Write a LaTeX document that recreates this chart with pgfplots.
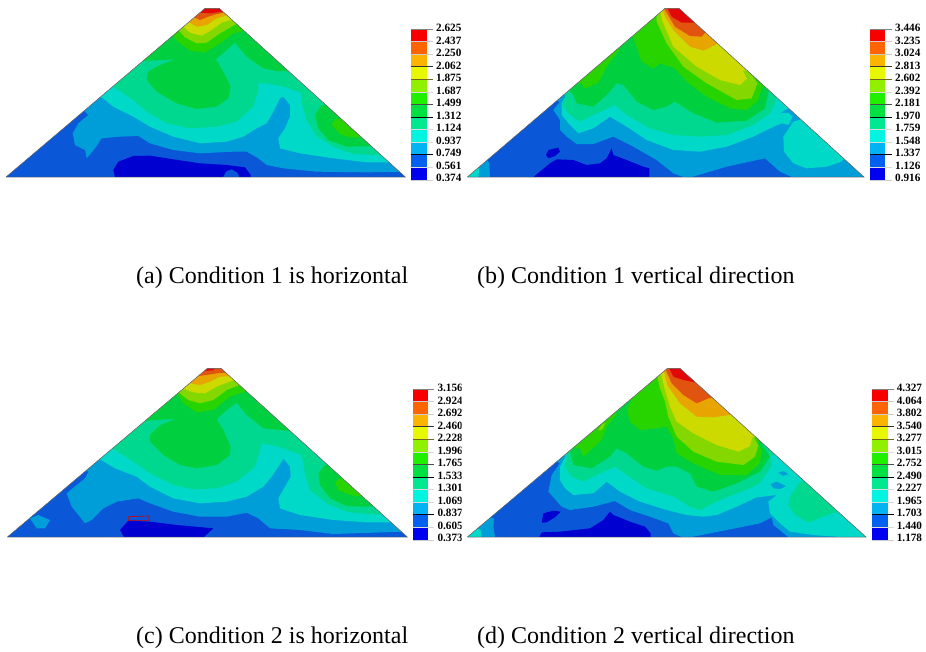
\documentclass[border=0pt]{standalone}
\usepackage{pgfplots}
\pgfplotsset{compat=1.18}
\usepackage{fontspec}
\setmainfont{Liberation Serif}
\definecolor{La}{HTML}{0000D0}
\definecolor{Lb}{HTML}{0A58D8}
\definecolor{Lc}{HTML}{009ED8}
\definecolor{Ld}{HTML}{00D8C8}
\definecolor{Le}{HTML}{00D890}
\definecolor{Lf}{HTML}{00D040}
\definecolor{Lg}{HTML}{28D400}
\definecolor{Lh}{HTML}{84D800}
\definecolor{Li}{HTML}{CCDA00}
\definecolor{Lj}{HTML}{E8A400}
\definecolor{Lk}{HTML}{E05410}
\definecolor{Ll}{HTML}{E00808}
\definecolor{Ba}{HTML}{0000F0}
\definecolor{Bb}{HTML}{0060F0}
\definecolor{Bc}{HTML}{00B4F4}
\definecolor{Bd}{HTML}{00F4E0}
\definecolor{Be}{HTML}{00E890}
\definecolor{Bf}{HTML}{00E040}
\definecolor{Bg}{HTML}{20F000}
\definecolor{Bh}{HTML}{90F000}
\definecolor{Bi}{HTML}{E8F800}
\definecolor{Bj}{HTML}{FBB400}
\definecolor{Bk}{HTML}{FF6400}
\definecolor{Bl}{HTML}{F80000}
\newcommand\reg[2]{\addplot[draw=none,fill=#1,forget plot] coordinates {#2} --cycle;}
\newcommand\cbr[3]{\reg{#3}{(\bx,#1)(\bxx,#1)(\bxx,#2)(\bx,#2)}}
\newcommand\tk[2]{\addplot[#2,line width=0.6pt,forget plot] coordinates {(\bx,#1)(\bxt,#1)};}
\newcommand\cbar[3]{\def\bx{#1}\def\bxx{#2}\def\bxt{#3}%
 \cbr{87}{125}{Bl}\cbr{125}{162}{Bk}\cbr{162}{200}{Bj}\cbr{200}{238}{Bi}%
 \cbr{238}{276}{Bh}\cbr{276}{313}{Bg}\cbr{313}{351}{Bf}\cbr{351}{389}{Be}%
 \cbr{389}{426}{Bd}\cbr{426}{464}{Bc}\cbr{464}{502}{Bb}\cbr{502}{540}{Ba}%
 \tk{87}{gray}\tk{125}{gray!40}\tk{162}{gray!40}\tk{200}{black!80}\tk{238}{olive!70!black}%
 \tk{276}{gray!30}\tk{313}{black!70}\tk{351}{black}\tk{389}{gray!30}\tk{426}{gray!30}%
 \tk{464}{black}\tk{502}{gray!30}\tk{540}{gray!40}}
\newcommand\cl[2]{\node[anchor=west,inner sep=0pt,font=\fontsize{11.2}{12}\selectfont\bfseries] at (axis cs:\lx,#1) {#2};}
\newcommand\frameup[4]{% xl, xr, xtl, xtr
 \addplot[draw=none,fill=white,forget plot] coordinates {(5,545)(5,0)(1232,0)(1232,545)(5,545)(#1,531)(#2,531)(#4,25)(#3,25)(#1,531)} --cycle;
 \addplot[draw=black!65,line width=0.5pt,forget plot] coordinates {(#1,531)(#3,25)(#4,25)(#2,531)(#1,531)};}
\pgfplotsset{panel/.style={scale only axis,width=466pt,height=190pt,xmin=0,xmax=1398,ymin=0,ymax=570,
 y dir=reverse,hide axis,clip=false,anchor=north west}}
\begin{document}
\begin{tikzpicture}[x=1pt,y=1pt]
\path[use as bounding box] (0,0) rectangle (926,-651);
% ---------------- panel a
\begin{axis}[panel,at={(0pt,0pt)}]
\reg{Lb}{(10,535)(1225,535)(660,10)(610,10)}
\reg{La}{(345,531)(340,510)(355,485)(400,468)(450,467)(520,478)(600,490)(680,495)(735,502)(752,525)(752,531)}
\reg{Lb}{(670,531)(678,515)(695,508)(712,518)(718,531)}
\reg{Lc}{(240,320)(265,345)(235,370)(218,400)(225,435)(255,450)(260,475)(285,445)(305,415)(360,410)(415,408)(450,430)(520,450)(600,460)(700,455)(740,455)(775,475)(800,495)(850,505)(950,515)(1100,517)(1230,515)(640,0)}
\reg{Ld}{(285,290)(305,292)(340,320)(400,350)(450,380)(520,410)(600,430)(680,425)(730,410)(770,385)(800,370)(820,335)(840,295)(850,290)(870,315)(870,350)(855,385)(835,415)(840,445)(900,460)(1000,475)(1100,487)(1190,487)(640,0)}
\reg{Le}{(320,260)(340,260)(400,300)(440,335)(500,370)(570,385)(650,380)(710,365)(760,320)(775,270)(775,250)(800,250)(860,262)(905,280)(905,310)(920,360)(950,410)(1000,440)(1060,462)(1130,465)(1170,465)(640,0)}
\reg{Lf}{(420,183)(525,178)(480,195)(445,215)(440,240)(470,275)(530,310)(590,327)(650,320)(685,295)(692,260)(670,215)(648,178)(680,150)(705,128)(740,170)(790,205)(830,213)(880,215)(640,0)}
\reg{Lf}{(990,315)(965,315)(945,345)(955,385)(985,420)(1040,440)(1130,438)}
\reg{Lg}{(1040,355)(1005,358)(995,375)(1020,402)(1050,412)(1095,412)}
\reg{Lg}{(515,100)(530,122)(570,152)(615,157)(660,130)(700,100)(735,92)(640,0)}
\reg{Lh}{(535,90)(555,112)(590,130)(620,128)(660,100)(712,70)(640,0)}
\reg{Li}{(548,78)(570,98)(605,107)(635,90)(665,68)(698,58)(640,0)}
\reg{Lj}{(565,65)(590,80)(620,75)(650,55)(685,45)(640,0)}
\reg{Lk}{(583,52)(600,60)(625,50)(650,42)(675,38)(640,0)}
\reg{Ll}{(600,38)(630,40)(668,35)(640,0)}
\frameup{18}{1216}{615}{658}
\cbar{1233}{1280}{1300}
\def\lx{1308}
\cl{85}{2.625}\cl{122.5}{2.437}\cl{160}{2.250}\cl{197.5}{2.062}\cl{235}{1.875}\cl{272.5}{1.687}\cl{310}{1.499}\cl{347.5}{1.312}\cl{385}{1.124}\cl{422.5}{0.937}\cl{460}{0.749}\cl{497.5}{0.561}\cl{535}{0.374}
\end{axis}
% ---------------- panel b
\begin{axis}[panel,at={(460pt,0pt)}]
\reg{Lb}{(10,535)(1225,535)(660,10)(610,10)}
\reg{Lc}{(10,531)(90,531)(88,490)(75,470)(60,470)}
\reg{Ld}{(10,531)(55,531)(58,503)(45,500)}
\reg{La}{(220,531)(270,490)(290,478)(340,480)(380,495)(420,490)(440,475)(455,445)(460,465)(500,480)(550,500)(568,505)(568,531)}
\reg{La}{(258,465)(265,450)(295,443)(300,455)(285,468)(265,475)}
\reg{Lc}{(275,300)(300,305)(280,330)(300,360)(300,390)(320,410)(350,432)(400,432)(460,410)(520,440)(590,480)(640,520)(670,531)(695,531)(800,500)(915,475)(960,515)(995,531)(1230,531)(640,0)}
\reg{Ld}{(1035,355)(1000,365)(970,410)(972,455)(1000,490)(1040,505)(1100,500)(1140,487)(1160,470)}
\reg{Ld}{(305,280)(320,285)(305,310)(305,345)(330,375)(355,400)(400,385)(450,350)(500,380)(560,420)(640,450)(720,455)(800,440)(880,410)(930,385)(965,370)(985,375)(998,350)(985,338)(960,340)(975,330)(990,322)(1010,322)(640,0)}
\reg{Le}{(300,280)(318,283)(307,315)(330,345)(360,365)(400,345)(465,315)(500,345)(570,385)(640,405)(720,410)(800,405)(880,375)(930,340)(945,310)(950,285)(640,0)}
\reg{Lf}{(320,262)(340,285)(350,310)(400,320)(440,285)(470,250)(490,255)(530,305)(580,330)(620,320)(645,305)(700,340)(770,368)(860,362)(915,325)(922,290)(930,255)(640,0)}
\reg{Lg}{(460,140)(478,150)(440,200)(415,248)(375,265)(365,250)(350,250)}
\reg{Lg}{(515,100)(533,150)(545,185)(580,205)(600,190)(645,205)(680,245)(740,290)(810,325)(860,330)(895,300)(905,265)(925,250)(640,0)}
\reg{Lh}{(590,40)(590,65)(620,130)(670,200)(740,250)(830,300)(875,295)(892,250)(875,225)(900,228)(640,0)}
\reg{Li}{(600,30)(606,60)(640,140)(710,200)(780,240)(840,255)(860,235)(848,212)(870,210)(640,0)}
\reg{Lj}{(608,30)(615,50)(640,90)(690,140)(730,152)(765,135)(775,125)(795,125)(640,0)}
\reg{Lk}{(612,25)(645,80)(690,108)(725,110)(735,98)(750,98)(640,0)}
\reg{Ll}{(620,20)(635,50)(665,68)(710,68)(640,0)}
\frameup{22}{1212}{615}{657}
\cbar{1230}{1276}{1296}
\def\lx{1305}
\cl{85}{3.446}\cl{122.5}{3.235}\cl{160}{3.024}\cl{197.5}{2.813}\cl{235}{2.602}\cl{272.5}{2.392}\cl{310}{2.181}\cl{347.5}{1.970}\cl{385}{1.759}\cl{422.5}{1.548}\cl{460}{1.337}\cl{497.5}{1.126}\cl{535}{0.916}
\end{axis}
% ---------------- panel c
\begin{axis}[panel,at={(0pt,-360pt)}]
\reg{Lb}{(10,535)(1228,535)(665,10)(615,10)}
\reg{La}{(372,531)(360,510)(385,482)(450,485)(530,495)(640,505)(612,531)}
\reg{Lc}{(90,475)(115,465)(150,480)(135,505)(110,505)}
\reg{Lc}{(250,330)(265,335)(255,355)(230,375)(200,400)(215,440)(235,465)(255,490)(275,480)(310,445)(350,425)(415,415)(450,430)(520,455)(600,470)(680,470)(740,458)(775,475)(810,505)(900,510)(1000,522)(1210,515)(1230,515)(645,0)}
\reg{Ld}{(290,292)(345,325)(410,350)(450,380)(520,415)(600,430)(680,425)(740,410)(790,380)(815,350)(845,305)(850,295)(870,320)(872,350)(855,380)(835,415)(840,445)(900,465)(1000,480)(1100,487)(1190,487)(645,0)}
\reg{Le}{(330,260)(400,305)(450,340)(520,375)(580,388)(650,385)(710,365)(765,320)(780,270)(785,250)(830,258)(905,285)(915,340)(930,390)(980,430)(1040,455)(1100,462)(1190,465)(645,0)}
\reg{Lf}{(430,183)(530,176)(480,195)(450,225)(450,245)(490,285)(540,315)(590,325)(650,315)(690,285)(692,260)(670,210)(650,178)(680,150)(710,128)(740,165)(790,205)(885,215)(645,0)}
\reg{Lf}{(995,315)(975,315)(955,340)(960,375)(990,415)(1040,438)(1090,440)(1135,438)}
\reg{Lg}{(1045,350)(1030,350)(1005,365)(1015,390)(1050,405)(1100,412)}
\reg{Lg}{(515,98)(530,98)(550,130)(590,157)(640,150)(690,110)(745,92)(645,0)}
\reg{Lh}{(530,92)(565,120)(600,130)(640,120)(680,90)(725,72)(645,0)}
\reg{Li}{(540,82)(580,97)(615,100)(650,80)(695,62)(710,60)(645,0)}
\reg{Lj}{(560,68)(600,75)(630,65)(660,50)(705,48)(645,0)}
\reg{Lk}{(580,50)(620,45)(650,40)(690,37)(645,0)}
\reg{Ll}{(610,33)(640,31)(645,25)(620,20)}
\addplot[draw=red!80!black,line width=0.6pt,forget plot] coordinates {(385,470)(447,468)(447,482)(385,482)(385,470)};
\frameup{22}{1222}{622}{663}
\cbar{1238}{1285}{1303}
\def\lx{1312}
\cl{85}{3.156}\cl{122.5}{2.924}\cl{160}{2.692}\cl{197.5}{2.460}\cl{235}{2.228}\cl{272.5}{1.996}\cl{310}{1.765}\cl{347.5}{1.533}\cl{385}{1.301}\cl{422.5}{1.069}\cl{460}{0.837}\cl{497.5}{0.605}\cl{535}{0.373}
\end{axis}
% ---------------- panel d
\begin{axis}[panel,at={(460pt,-360pt)}]
\reg{Lb}{(10,535)(1228,535)(665,10)(615,10)}
\reg{La}{(238,531)(245,517)(300,515)(390,505)(430,480)(450,455)(460,465)(510,485)(555,500)(572,520)(572,531)}
\reg{La}{(245,488)(250,460)(280,452)(302,455)(285,472)(260,487)}
\reg{Lc}{(10,531)(105,531)(100,500)(102,475)(85,470)}
\reg{Ld}{(10,531)(65,531)(62,510)(48,502)}
\reg{Lc}{(285,300)(300,310)(275,345)(265,395)(305,440)(330,450)(400,440)(465,423)(510,450)(570,470)(625,490)(640,520)(665,531)(695,531)(800,510)(900,490)(935,472)(940,495)(965,515)(985,531)(1230,531)(645,0)}
\reg{Ld}{(300,285)(318,287)(300,320)(300,360)(315,385)(340,405)(400,400)(440,365)(480,395)(540,425)(620,450)(680,465)(730,470)(770,465)(830,440)(890,412)(950,405)(925,425)(930,460)(960,490)(990,515)(1060,525)(1140,531)(1230,531)(645,0)}
\reg{Lc}{(955,338)(970,333)(985,342)(970,348)}
\reg{Lc}{(932,372)(950,365)(978,378)(960,387)(940,385)}
\reg{Le}{(1040,360)(1020,365)(990,410)(985,435)(1005,465)(1045,488)(1090,470)(1140,452)}
\reg{Le}{(305,280)(322,283)(315,320)(335,350)(370,365)(410,345)(465,320)(500,345)(560,385)(640,410)(690,440)(720,450)(780,420)(870,385)(900,370)(935,315)(930,285)(960,285)(645,0)}
\reg{Lf}{(330,255)(345,255)(330,275)(340,315)(395,325)(450,290)(470,265)(500,280)(550,320)(590,332)(620,320)(650,320)(690,340)(710,380)(760,395)(830,370)(900,335)(930,290)(905,250)(925,250)(645,0)}
\reg{Lg}{(340,265)(360,265)(370,290)(425,240)(440,200)(472,162)(460,160)}
\reg{Lh}{(415,210)(425,195)(437,188)(425,210)}
\reg{Lg}{(505,118)(515,120)(500,150)(510,185)(540,210)(590,205)(620,200)(640,235)(650,280)(700,310)(780,345)(860,345)(900,310)(905,270)(890,245)(915,245)(645,0)}
\reg{Lh}{(590,40)(600,85)(615,125)(625,170)(650,230)(700,275)(770,305)(850,315)(885,290)(895,255)(880,230)(900,228)(645,0)}
\reg{Li}{(600,30)(615,90)(630,140)(650,185)(700,220)(770,255)(835,275)(870,258)(877,232)(895,232)(645,0)}
\reg{Lj}{(610,25)(622,75)(660,130)(710,170)(760,172)(820,163)(645,0)}
\reg{Lk}{(615,25)(635,70)(670,105)(710,130)(745,115)(770,110)(645,0)}
\reg{Ll}{(625,20)(640,50)(670,60)(710,68)(645,0)}
\frameup{22}{1218}{622}{660}
\cbar{1237}{1283}{1302}
\def\lx{1310}
\cl{85}{4.327}\cl{122.5}{4.064}\cl{160}{3.802}\cl{197.5}{3.540}\cl{235}{3.277}\cl{272.5}{3.015}\cl{310}{2.752}\cl{347.5}{2.490}\cl{385}{2.227}\cl{422.5}{1.965}\cl{460}{1.703}\cl{497.5}{1.440}\cl{535}{1.178}
\end{axis}
\node[anchor=west,inner sep=0pt,font=\fontsize{24}{26}\selectfont] at (136,-278) {(a) Condition 1 is horizontal};
\node[anchor=west,inner sep=0pt,font=\fontsize{24}{26}\selectfont] at (477,-278) {(b) Condition 1 vertical direction};
\node[anchor=west,inner sep=0pt,font=\fontsize{24}{26}\selectfont] at (136,-638) {(c) Condition 2 is horizontal};
\node[anchor=west,inner sep=0pt,font=\fontsize{24}{26}\selectfont] at (477,-638) {(d) Condition 2 vertical direction};
\end{tikzpicture}
\end{document}
